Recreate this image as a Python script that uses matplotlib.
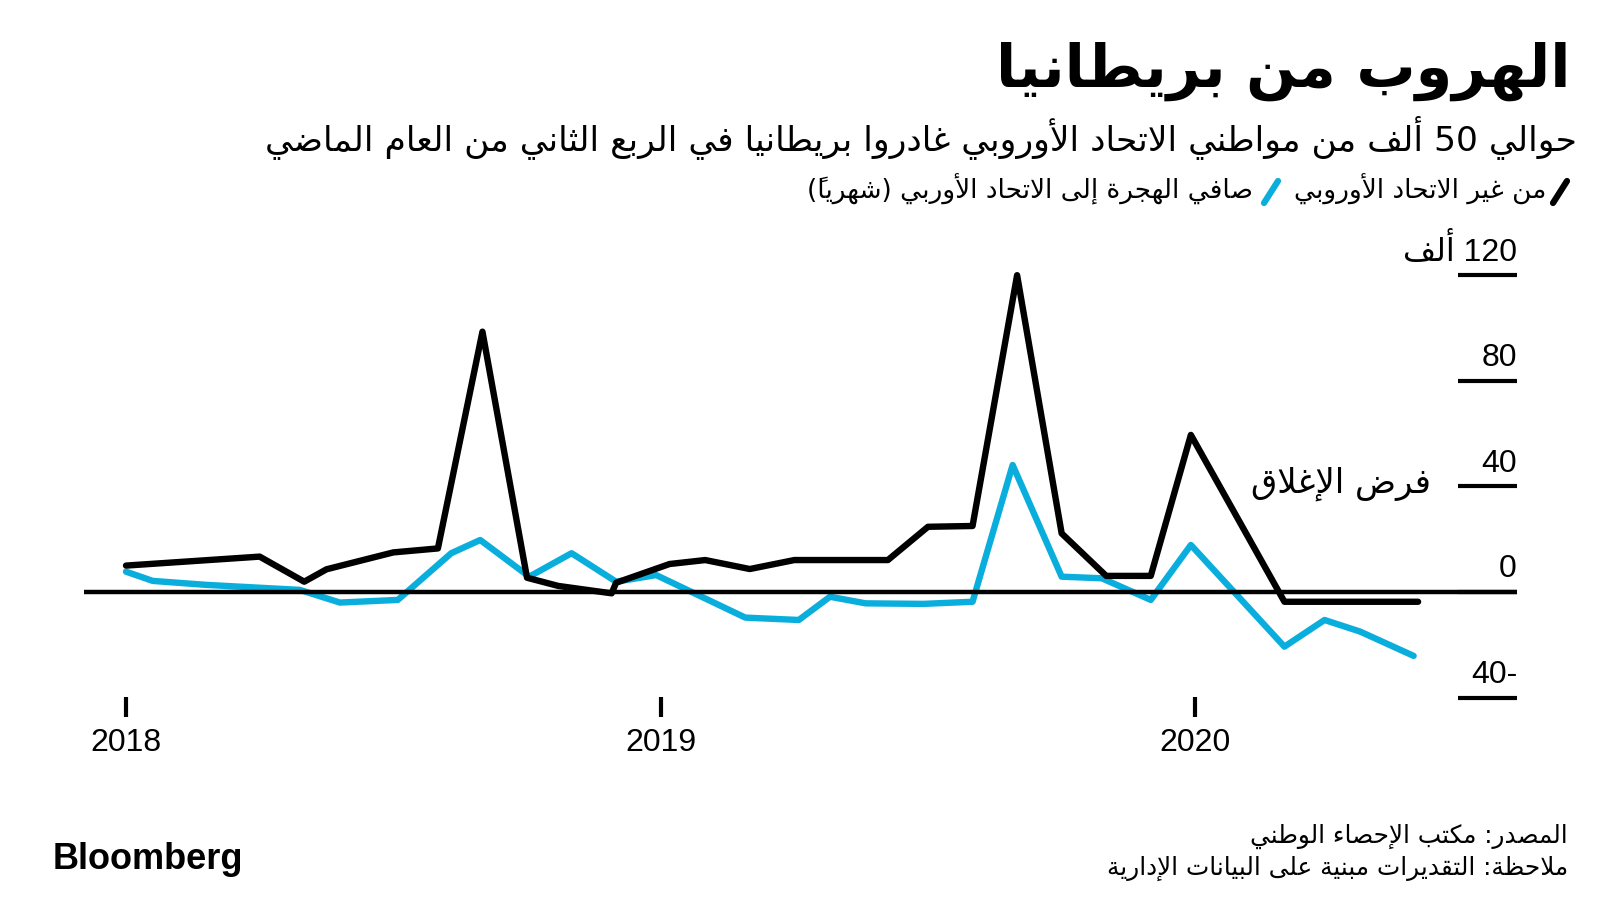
import matplotlib
matplotlib.use('Agg')
import matplotlib.pyplot as plt
from matplotlib.lines import Line2D

# months counted from Jan 2018, values in thousands
non_eu_month = [0, 3, 4, 4.5, 6, 7, 8, 9, 9.7, 10.9, 11, 12.2, 13, 14, 15, 17.1, 18, 19, 20, 21, 22, 23, 23.9, 26, 29]
non_eu_value = [10, 13.4, 3.9, 8.6, 15, 16.5, 98.6, 5.4, 2.3, -0.5, 3.5, 10.6, 12.1, 8.7, 12.1, 12.1, 24.7, 25, 120, 22.2, 6.1, 6.1, 59.5, -3.7, -3.7]

eu_month = [0, 0.6, 1.8, 3.9, 4.8, 6.1, 7.3, 7.95, 9.05, 10, 11, 11.9, 13.9, 15.1, 15.8, 16.6, 17.9, 19, 19.9, 21, 21.9, 23, 23.9, 26, 26.9, 27.7, 28.9]
eu_value = [7.7, 4.2, 2.7, 0.8, -4.0, -3.0, 14.7, 19.7, 5.8, 14.7, 3.9, 6.4, -9.7, -10.6, -1.8, -4.3, -4.5, -3.7, 48.1, 5.8, 5.2, -3.0, 17.8, -20.7, -10.6, -15.0, -24.2]

year_ticks = [0, 12, 24]
year_labels = ['2018', '2019', '2020']
y_ticks = [120, 80, 40, 0, -40]
y_labels = ['120 ألف', '80', '40', '0', '-40']

title = 'الهروب من بريطانيا'
subtitle = 'حوالي 50 ألف من مواطني الاتحاد الأوروبي غادروا بريطانيا في الربع الثاني من العام الماضي'
legend_non_eu = 'من غير الاتحاد الأوروبي'
legend_eu = 'صافي الهجرة إلى الاتحاد الأوربي (شهرياً)'
lockdown_label = 'فرض الإغلاق'
source = 'المصدر: مكتب الإحصاء الوطني'
note = 'ملاحظة: التقديرات مبنية على البيانات الإدارية'

BLUE = '#0AAEDD'

# --- tiny arabic shaper: matplotlib has no shaping / bidi ---
# letter -> (first presentation form, number of forms)
FORMS = {
    'ء': (0xFE80, 1), 'آ': (0xFE81, 2), 'أ': (0xFE83, 2), 'ؤ': (0xFE85, 2),
    'إ': (0xFE87, 2), 'ئ': (0xFE89, 4), 'ا': (0xFE8D, 2), 'ب': (0xFE8F, 4),
    'ة': (0xFE93, 2), 'ت': (0xFE95, 4), 'ث': (0xFE99, 4), 'ج': (0xFE9D, 4),
    'ح': (0xFEA1, 4), 'خ': (0xFEA5, 4), 'د': (0xFEA9, 2), 'ذ': (0xFEAB, 2),
    'ر': (0xFEAD, 2), 'ز': (0xFEAF, 2), 'س': (0xFEB1, 4), 'ش': (0xFEB5, 4),
    'ص': (0xFEB9, 4), 'ض': (0xFEBD, 4), 'ط': (0xFEC1, 4), 'ظ': (0xFEC5, 4),
    'ع': (0xFEC9, 4), 'غ': (0xFECD, 4), 'ف': (0xFED1, 4), 'ق': (0xFED5, 4),
    'ك': (0xFED9, 4), 'ل': (0xFEDD, 4), 'م': (0xFEE1, 4), 'ن': (0xFEE5, 4),
    'ه': (0xFEE9, 4), 'و': (0xFEED, 2), 'ى': (0xFEEF, 2), 'ي': (0xFEF1, 4),
}
LAM_ALEF = {'آ': 0xFEF5, 'أ': 0xFEF7, 'إ': 0xFEF9, 'ا': 0xFEFB}
MARKS = set(chr(c) for c in range(0x064B, 0x0653))


def links_next(u):
    return isinstance(u, str) and u in FORMS and FORMS[u][1] == 4


def links_prev(u):
    if isinstance(u, tuple):
        return True
    return isinstance(u, str) and u in FORMS and FORMS[u][1] > 1


def shape(text):
    units = []
    i = 0
    while i < len(text):
        c = text[i]
        if c in MARKS and units:
            units[-1][1] += c
        elif c == 'ل' and i + 1 < len(text) and text[i + 1] in LAM_ALEF:
            units.append([('la', text[i + 1]), ''])
            i += 1
        else:
            units.append([c, ''])
        i += 1
    out = []
    for k, (c, marks) in enumerate(units):
        prev = units[k - 1][0] if k > 0 else None
        nxt = units[k + 1][0] if k + 1 < len(units) else None
        if isinstance(c, tuple):
            out.append(chr(LAM_ALEF[c[1]] + (1 if links_next(prev) else 0)) + marks)
            continue
        if c not in FORMS:
            out.append(c + marks)
            continue
        base, n = FORMS[c]
        jp = links_next(prev) and n > 1
        jn = n == 4 and links_prev(nxt)
        form = 3 if (jp and jn) else 1 if jp else 2 if jn else 0
        out.append(chr(base + form) + marks)
    return out


def rtl(text):
    runs = []
    for cl in shape(text):
        ltr = cl[0].isascii() and cl[0].isalnum()
        if runs and runs[-1][0] == ltr:
            runs[-1][1].append(cl)
        else:
            runs.append([ltr, [cl]])
    mirror = {'(': ')', ')': '('}
    out = ''
    for ltr, cls in reversed(runs):
        if ltr:
            out += ''.join(cls)
        else:
            # marks go before their base so they land on it
            out += ''.join(mirror.get(c, c)[::-1] for c in reversed(cls))
    return out


W, H = 1600, 900


def fx(px):
    return px / W


def fy(py):
    return 1 - py / H


AR = 'DejaVu Sans'
NUM = ['Liberation Sans', 'DejaVu Sans']

fig = plt.figure(figsize=(16, 9), dpi=100)
fig.patch.set_facecolor('white')

ax = fig.add_axes([fx(84), fy(717), fx(1517) - fx(84), fy(248) - fy(717)])
ax.set_xlim(-0.943, 31.22)
ax.set_ylim(-47.35, 130.3)
for s in ax.spines.values():
    s.set_visible(False)

ax.plot(eu_month, eu_value, color=BLUE, lw=4.6, solid_capstyle='round', solid_joinstyle='round', zorder=3)
ax.axhline(0, color='black', lw=3.2, zorder=3.5)
ax.plot(non_eu_month, non_eu_value, color='black', lw=4.6, solid_capstyle='round', solid_joinstyle='round', zorder=4)

ax.set_xticks(year_ticks, year_labels)
ax.tick_params(axis='x', direction='in', length=14.4, width=3, pad=8, labelsize=23, color='black')
for lab in ax.get_xticklabels():
    lab.set_family(NUM)

ax.yaxis.tick_right()
ax.set_yticks(y_ticks)
ax.tick_params(axis='y', direction='in', length=42.5, width=3, labelright=False, labelleft=False, color='black')
for v, lab in zip(y_ticks, y_labels):
    ax.annotate(rtl(lab), xy=(1, v), xycoords=('axes fraction', 'data'), xytext=(0, 10.5),
                textcoords='offset points', ha='right', va='baseline', fontsize=23, family=NUM)

ax.text(29.29, 37.5, rtl(lockdown_label), ha='right', va='baseline', fontsize=24.5, family=AR)

# header
fig.text(fx(1571), fy(87), rtl(title), ha='right', va='baseline', fontsize=42.5, fontweight='bold', family=AR)
fig.text(fx(1577), fy(150), rtl(subtitle), ha='right', va='baseline', fontsize=24.8, family=AR)

# legend
fig.add_artist(Line2D([fx(1553), fx(1567)], [fy(203), fy(181)], lw=4.5, color='black', solid_capstyle='round'))
fig.text(fx(1546), fy(199), rtl(legend_non_eu), ha='right', va='baseline', fontsize=19, family=AR)
fig.add_artist(Line2D([fx(1264), fx(1278)], [fy(203), fy(181)], lw=4.5, color=BLUE, solid_capstyle='round'))
fig.text(fx(1253), fy(199), rtl(legend_eu), ha='right', va='baseline', fontsize=19, family=AR)

# footer
fig.text(fx(1568), fy(843), rtl(source), ha='right', va='baseline', fontsize=17.8, family=AR)
fig.text(fx(1568), fy(875), rtl(note), ha='right', va='baseline', fontsize=17.8, family=AR)
fig.text(fx(53), fy(869), 'Bloomberg', ha='left', va='baseline', fontsize=26, fontweight='bold', family='Liberation Sans')

plt.savefig('out.png', dpi=100, facecolor='white')
plt.close()
